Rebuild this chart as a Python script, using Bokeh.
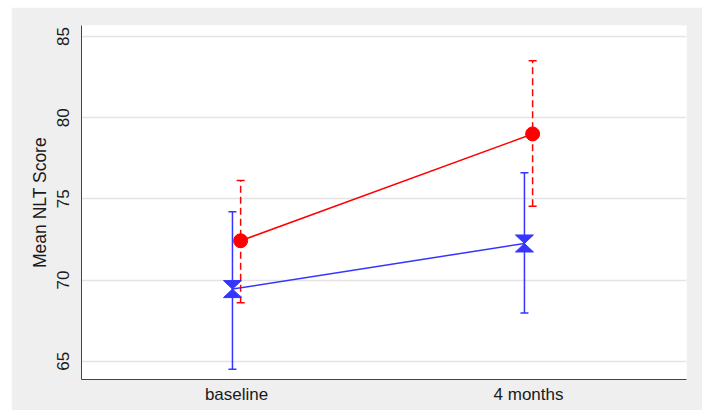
from bokeh.plotting import figure
from bokeh.models import Range1d, FixedTicker, Whisker, ColumnDataSource, TeeHead
from bokeh.embed import file_html
from bokeh.resources import INLINE
import numpy as np

# ---- data ----
timepoints = ["baseline", "4 months"]
tick_positions = [1, 2]
y_ticks = [65, 70, 75, 80, 85]

blue_mean = [69.44, 72.25]
blue_lower = [64.50, 67.97]
blue_upper = [74.21, 76.61]

red_mean = [72.42, 79.00]
red_lower = [68.60, 74.55]
red_upper = [76.13, 83.51]

# ---- styling ----
BLUE = "#3535ff"
RED = "#ff0000"
FONT = "Liberation Sans"
TXT = "#1a1a1a"

p = figure(width=691, height=403,
           x_range=Range1d(0.469, 2.541), y_range=Range1d(63.87, 85.68),
           output_backend="svg", toolbar_location=None,
           min_border_left=70, min_border_top=18,
           min_border_right=16, min_border_bottom=31)
p.margin = (7, 0, 0, 11)

p.background_fill_color = "white"
p.border_fill_color = "#efefef"
p.outline_line_color = None

offset = 0.014
bx = np.array(tick_positions, dtype=float) - offset
rx = np.array(tick_positions, dtype=float) + offset

# error bars
blue_src = ColumnDataSource(dict(x=bx, mean=blue_mean, lower=blue_lower, upper=blue_upper))
red_src = ColumnDataSource(dict(x=rx, mean=red_mean, lower=red_lower, upper=red_upper))

bw = Whisker(source=blue_src, base="x", lower="lower", upper="upper", dimension="height",
             line_color=BLUE, line_width=1.5,
             upper_head=TeeHead(size=8, line_color=BLUE, line_width=1.5),
             lower_head=TeeHead(size=8, line_color=BLUE, line_width=1.5))
rw = Whisker(source=red_src, base="x", lower="lower", upper="upper", dimension="height",
             line_color=RED, line_width=1.5, line_dash="7 4",
             upper_head=TeeHead(size=8, line_color=RED, line_width=1.5),
             lower_head=TeeHead(size=8, line_color=RED, line_width=1.5))
p.add_layout(rw)
p.add_layout(bw)

# mean lines
p.line("x", "mean", source=red_src, line_color=RED, line_width=1.5)
p.line("x", "mean", source=blue_src, line_color=BLUE, line_width=1.5)

# red circle markers
p.scatter("x", "mean", source=red_src, marker="circle", size=14,
          fill_color=RED, line_color=RED)

# blue hourglass markers (two triangles meeting at the mean)
hw = 9.0 / 292.0     # half-width in x data units (~9 px)
hh = 8.5 / 16.23     # half-height in y data units (~8.5 px)
bm = np.array(blue_mean, dtype=float)
xs, ys = [], []
for x, y in zip(bx, bm):
    xs.append([x - hw, x + hw, x]); ys.append([y + hh, y + hh, y])
    xs.append([x - hw, x + hw, x]); ys.append([y - hh, y - hh, y])
p.patches(xs, ys, fill_color=BLUE, line_color=BLUE, line_width=1)

# ---- axes ----
p.xgrid.visible = False
p.ygrid.ticker = FixedTicker(ticks=y_ticks)
p.ygrid.grid_line_color = "#e4e4e4"
p.ygrid.grid_line_width = 1.5

p.xaxis.ticker = FixedTicker(ticks=tick_positions)
p.xaxis.major_label_overrides = {t: lab for t, lab in zip(tick_positions, timepoints)}
p.xaxis.major_tick_out = 0
p.xaxis.major_tick_in = 0
p.xaxis.minor_tick_line_color = None
p.xaxis.major_label_standoff = 5

p.yaxis.ticker = FixedTicker(ticks=y_ticks)
p.yaxis.major_tick_out = 8
p.yaxis.major_tick_in = 0
p.yaxis.minor_tick_line_color = None
p.yaxis.major_label_orientation = "vertical"
p.yaxis.major_label_standoff = 4
p.yaxis.axis_label = "Mean NLT Score"
p.yaxis.axis_label_standoff = 5

for ax in (p.xaxis, p.yaxis):
    ax.axis_line_color = "#444444"
    ax.axis_line_width = 1
    ax.major_tick_line_color = "#444444" if ax is p.yaxis else None
    ax.major_label_text_font = FONT
    ax.major_label_text_font_size = "17px"
    ax.major_label_text_color = TXT
    ax.axis_label_text_font = FONT
    ax.axis_label_text_font_size = "17.5px"
    ax.axis_label_text_font_style = "normal"
    ax.axis_label_text_color = TXT

open("out.html", "w").write(file_html(p, INLINE))
